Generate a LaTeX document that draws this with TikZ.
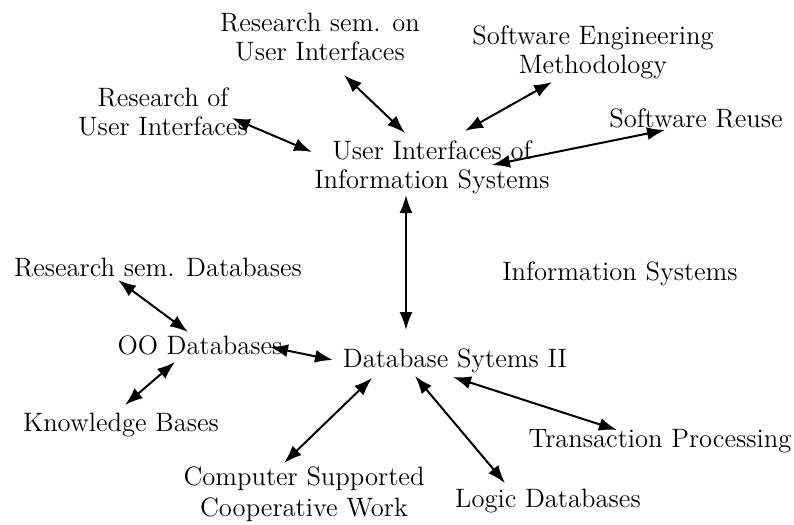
\documentclass[tikz,border=0pt]{standalone}
\usetikzlibrary{arrows.meta,calc}
\begin{document}
\begin{tikzpicture}[x=0.5pt,y=-0.5pt,
  lbl/.style={inner sep=0pt,align=center,font=\fontsize{13.3}{14.5}\selectfont},
  link/.style={line width=1pt,{Latex[length=9pt,width=6.5pt]}-{Latex[length=9pt,width=6.5pt]}}]
\useasboundingbox (0,0) rectangle (794,525);
% topics
\node[lbl] (rsui) at (320,37) {Research sem. on\\User Interfaces};
\node[lbl] (sem)  at (593,52) {Software Engineering\\Methodology};
\node[lbl] (rui)  at (163,112) {Research of\\User Interfaces};
\node[lbl] (reuse) at (696,118) {Software Reuse};
\node[lbl] (uiis) at (432,167) {User Interfaces of\\Information Systems};
\node[lbl] (rsdb) at (158,268) {Research sem. Databases};
\node[lbl] (is)   at (620,274) {Information Systems};
\node[lbl] (oodb) at (200,345) {OO Databases};
\node[lbl] (dbs)  at (455,361) {Database Sytems II};
\node[lbl] (kb)   at (121,425) {Knowledge Bases};
\node[lbl] (tp)   at (660,441) {Transaction Processing};
\node[lbl,font=\fontsize{13.3}{15.5}\selectfont] (cscw) at (304,494) {Computer Supported\\Cooperative Work};
\node[lbl] (ldb)  at (548,501) {Logic Databases};
% relations
\draw[link] ($(rsui)+(24,38)$) -- ($(uiis)+(-27,-34)$);
\draw[link] ($(sem)+(-41,30)$) -- ($(uiis)+(33,-36)$);
\draw[link] ($(rui)+(69,6)$) -- ($(uiis)+(-120,-15)$);
\draw[link] ($(reuse)+(-31,12)$) -- ($(uiis)+(60,-2)$);
\draw[link] ($(uiis)+(-26,28)$) -- ($(dbs)+(-49,-31)$);
\draw[link] ($(rsdb)+(-40,12)$) -- ($(oodb)+(-12,-13)$);
\draw[link] ($(oodb)+(70,2)$) -- ($(dbs)+(-122,-1)$);
\draw[link] ($(kb)+(4,-20)$) -- ($(oodb)+(-25,17)$);
\draw[link] ($(cscw)+(-20,-31)$) -- ($(dbs)+(-83,17)$);
\draw[link] ($(dbs)+(-40,15)$) -- ($(ldb)+(-43,-18)$);
\draw[link] ($(dbs)+(-2,16)$) -- ($(tp)+(-43,-11)$);
\end{tikzpicture}
\end{document}
